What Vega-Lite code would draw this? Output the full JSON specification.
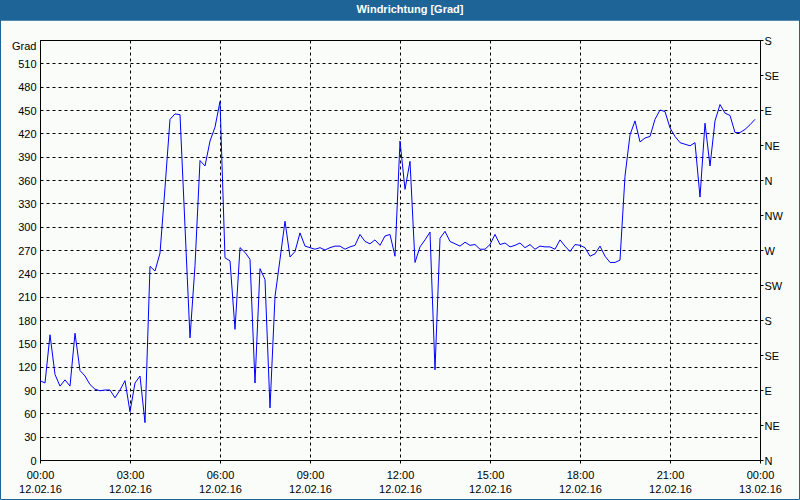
{
  "$schema": "https://vega.github.io/schema/vega-lite/v6.json",
  "width": 720,
  "height": 420,
  "autosize": {"type": "none"},
  "padding": {"left": 40, "top": 40, "right": 40, "bottom": 40},
  "background": "#fafcfa",
  "config": {
    "view": {"stroke": "#000000", "strokeWidth": 1},
    "axis": {"labelFont": "Liberation Sans", "labelFontSize": 11, "labelColor": "#000000", "title": null}
  },
  "resolve": {"scale": {"y": "independent"}},
  "layer": [
    {
      "data": {"values": [
        {"minute": 0, "v": 102}, {"minute": 10, "v": 99}, {"minute": 20, "v": 161}, {"minute": 30, "v": 110},
        {"minute": 40, "v": 95}, {"minute": 50, "v": 103}, {"minute": 60, "v": 95}, {"minute": 70, "v": 163},
        {"minute": 80, "v": 115}, {"minute": 90, "v": 108}, {"minute": 100, "v": 97}, {"minute": 110, "v": 91},
        {"minute": 120, "v": 89}, {"minute": 130, "v": 90}, {"minute": 140, "v": 90}, {"minute": 150, "v": 80},
        {"minute": 160, "v": 90}, {"minute": 170, "v": 102}, {"minute": 180, "v": 62}, {"minute": 190, "v": 99},
        {"minute": 200, "v": 108}, {"minute": 210, "v": 48}, {"minute": 220, "v": 249}, {"minute": 230, "v": 243},
        {"minute": 240, "v": 266}, {"minute": 250, "v": 350}, {"minute": 260, "v": 438}, {"minute": 270, "v": 445},
        {"minute": 280, "v": 444}, {"minute": 290, "v": 300}, {"minute": 300, "v": 157}, {"minute": 310, "v": 250},
        {"minute": 320, "v": 385}, {"minute": 330, "v": 378}, {"minute": 340, "v": 410}, {"minute": 350, "v": 428},
        {"minute": 360, "v": 461}, {"minute": 370, "v": 260}, {"minute": 380, "v": 256}, {"minute": 390, "v": 168},
        {"minute": 400, "v": 273}, {"minute": 410, "v": 267}, {"minute": 420, "v": 258}, {"minute": 430, "v": 99},
        {"minute": 440, "v": 246}, {"minute": 450, "v": 232}, {"minute": 460, "v": 67}, {"minute": 470, "v": 210},
        {"minute": 480, "v": 258}, {"minute": 490, "v": 307}, {"minute": 500, "v": 261}, {"minute": 510, "v": 268},
        {"minute": 520, "v": 292}, {"minute": 530, "v": 275}, {"minute": 540, "v": 273}, {"minute": 550, "v": 271},
        {"minute": 560, "v": 273}, {"minute": 570, "v": 270}, {"minute": 580, "v": 273}, {"minute": 590, "v": 275},
        {"minute": 600, "v": 275}, {"minute": 610, "v": 271}, {"minute": 620, "v": 274}, {"minute": 630, "v": 276},
        {"minute": 640, "v": 290}, {"minute": 650, "v": 281}, {"minute": 660, "v": 278}, {"minute": 670, "v": 283},
        {"minute": 680, "v": 276}, {"minute": 690, "v": 288}, {"minute": 700, "v": 290}, {"minute": 710, "v": 262},
        {"minute": 720, "v": 410}, {"minute": 730, "v": 348}, {"minute": 740, "v": 384}, {"minute": 750, "v": 254},
        {"minute": 760, "v": 274}, {"minute": 770, "v": 283}, {"minute": 780, "v": 293}, {"minute": 790, "v": 116},
        {"minute": 800, "v": 285}, {"minute": 810, "v": 294}, {"minute": 820, "v": 281}, {"minute": 830, "v": 278},
        {"minute": 840, "v": 275}, {"minute": 850, "v": 280}, {"minute": 860, "v": 276}, {"minute": 870, "v": 277},
        {"minute": 880, "v": 271}, {"minute": 890, "v": 271}, {"minute": 900, "v": 277}, {"minute": 910, "v": 290},
        {"minute": 920, "v": 277}, {"minute": 930, "v": 279}, {"minute": 940, "v": 274}, {"minute": 950, "v": 276},
        {"minute": 960, "v": 279}, {"minute": 970, "v": 273}, {"minute": 980, "v": 277}, {"minute": 990, "v": 271},
        {"minute": 1000, "v": 275}, {"minute": 1010, "v": 274}, {"minute": 1020, "v": 274}, {"minute": 1030, "v": 271},
        {"minute": 1040, "v": 283}, {"minute": 1050, "v": 275}, {"minute": 1060, "v": 268}, {"minute": 1070, "v": 277},
        {"minute": 1080, "v": 276}, {"minute": 1090, "v": 273}, {"minute": 1100, "v": 262}, {"minute": 1110, "v": 265},
        {"minute": 1120, "v": 275}, {"minute": 1130, "v": 262}, {"minute": 1140, "v": 254}, {"minute": 1150, "v": 254},
        {"minute": 1160, "v": 257}, {"minute": 1170, "v": 365}, {"minute": 1180, "v": 418}, {"minute": 1190, "v": 436},
        {"minute": 1200, "v": 409}, {"minute": 1210, "v": 414}, {"minute": 1220, "v": 416}, {"minute": 1230, "v": 438},
        {"minute": 1240, "v": 450}, {"minute": 1250, "v": 448}, {"minute": 1260, "v": 427}, {"minute": 1270, "v": 416},
        {"minute": 1280, "v": 408}, {"minute": 1290, "v": 406}, {"minute": 1300, "v": 404}, {"minute": 1310, "v": 408},
        {"minute": 1320, "v": 338}, {"minute": 1330, "v": 433}, {"minute": 1340, "v": 378}, {"minute": 1350, "v": 436},
        {"minute": 1360, "v": 457}, {"minute": 1370, "v": 446}, {"minute": 1380, "v": 443}, {"minute": 1390, "v": 421},
        {"minute": 1400, "v": 421}, {"minute": 1410, "v": 425}, {"minute": 1420, "v": 431}, {"minute": 1430, "v": 438}
      ]},
      "mark": {"type": "line", "color": "#0000ff", "strokeWidth": 1, "interpolate": "linear"},
      "encoding": {
        "x": {"field": "minute", "type": "quantitative",
              "scale": {"domain": [0, 1440], "nice": false, "zero": false},
              "axis": {"orient": "bottom",
                       "values": [0, 180, 360, 540, 720, 900, 1080, 1260, 1440],
                       "labelExpr": "[(datum.value < 600 || datum.value == 1440 ? '0' : '') + (floor(datum.value / 60) % 24) + ':00', datum.value < 1440 ? '12.02.16' : '13.02.16']",
                       "labelLineHeight": 14, "labelPadding": 6, "labelBaseline": "top", "labelOverlap": false, "labelFlush": false, "labelBound": false,
                       "grid": true, "gridColor": "#000000", "gridDash": [3, 3], "gridWidth": 1, "gridOpacity": 1,
                       "domain": false, "ticks": true, "tickSize": 3, "tickColor": "#000000"}},
        "y": {"field": "v", "type": "quantitative",
              "scale": {"domain": [0, 540], "nice": false, "zero": false},
              "axis": {"orient": "left", "values": [0, 30, 60, 90, 120, 150, 180, 210, 240, 270, 300, 330, 360, 390, 420, 450, 480, 510, 540],
                       "labelExpr": "datum.value == 540 ? 'Grad' : datum.label",
                       "labelOffset": {"condition": {"test": "datum.value == 540", "value": 6}, "value": 1},
                       "labelPadding": 4, "labelBaseline": "middle", "labelOverlap": false, "labelBound": false,
                       "grid": true, "gridColor": "#000000", "gridDash": [3, 3], "gridWidth": 1, "gridOpacity": 1,
                       "domain": false, "ticks": false}}
      }
    },
    {
      "data": {"values": [{"compass": 0}, {"compass": 540}]},
      "mark": {"type": "point", "opacity": 0},
      "encoding": {
        "x": {"datum": 720, "type": "quantitative"},
        "y": {"field": "compass", "type": "quantitative",
              "scale": {"domain": [0, 540], "nice": false, "zero": false},
              "axis": {"orient": "right", "values": [0, 45, 90, 135, 180, 225, 270, 315, 360, 405, 450, 495, 540],
                       "labelExpr": "['N','NE','E','SE','S','SW','W','NW','N','NE','E','SE','S'][round(datum.value/45)]",
                       "grid": false, "domain": false, "ticks": true, "tickSize": 3, "tickColor": "#000000", "labelPadding": 1, "labelOffset": 1, "labelAlign": "left", "labelBaseline": "middle", "labelOverlap": false, "labelBound": false}}
      }
    },
    {
      "data": {"values": [{}]},
      "mark": {"type": "rect", "fill": "#1e6496", "clip": false},
      "encoding": {
        "x": {"datum": -80, "type": "quantitative"},
        "x2": {"datum": 1520},
        "y": {"datum": 591.43, "type": "quantitative", "axis": null, "scale": {"domain": [0, 540], "nice": false, "zero": false}},
        "y2": {"datum": 564.8}
      }
    },
    {
      "data": {"values": [{}]},
      "mark": {"type": "rect", "fill": "transparent", "stroke": "#1e6496", "strokeWidth": 1, "clip": false},
      "encoding": {
        "x": {"datum": -79, "type": "quantitative"},
        "x2": {"datum": 1519},
        "y": {"datum": 590.79, "type": "quantitative", "axis": null, "scale": {"domain": [0, 540], "nice": false, "zero": false}},
        "y2": {"datum": -50.79}
      }
    },
    {
      "data": {"values": [{}]},
      "mark": {"type": "text", "text": "Windrichtung [Grad]", "font": "Liberation Sans", "fontSize": 11, "fontWeight": "bold", "color": "#ffffff", "align": "center", "baseline": "middle", "clip": false},
      "encoding": {
        "x": {"datum": 740, "type": "quantitative"},
        "y": {"datum": 578.57, "type": "quantitative", "axis": null, "scale": {"domain": [0, 540], "nice": false, "zero": false}}
      }
    }
  ]
}
